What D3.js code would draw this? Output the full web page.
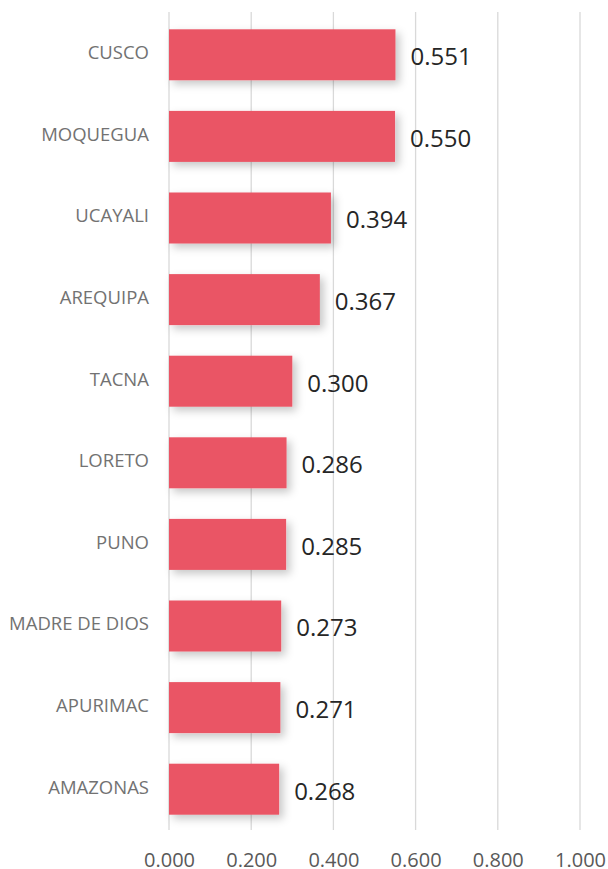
<!DOCTYPE html>
<html>
<head>
<meta charset="utf-8">
<script src="https://cdn.jsdelivr.net/npm/d3@7"></script>
<style>
  body { margin: 0; background: #fff; }
  svg { display: block; font-family: "Open Sans", sans-serif; }
</style>
</head>
<body>
<div id="container"></div>
<script>
const regions = ["CUSCO", "MOQUEGUA", "UCAYALI", "AREQUIPA", "TACNA", "LORETO", "PUNO", "MADRE DE DIOS", "APURIMAC", "AMAZONAS"];
const values = [0.551, 0.550, 0.394, 0.367, 0.300, 0.286, 0.285, 0.273, 0.271, 0.268];
const ticks = [0, 0.2, 0.4, 0.6, 0.8, 1.0];

const width = 608;
const height = 869;
const marginTop = 14;
const marginBottom = 39;
const marginLeft = 169;
const marginRight = 28;

const x = d3.scaleLinear()
  .domain([0, 1])
  .range([marginLeft, width - marginRight]);

const y = d3.scaleBand()
  .domain(regions)
  .range([marginTop, height - marginBottom])
  .paddingInner(0.375)
  .paddingOuter(0.1875);

const svg = d3.create("svg")
  .attr("width", width)
  .attr("height", height)
  .attr("viewBox", [0, 0, width, height]);

// soft shadow under bars
const defs = svg.append("defs");
const f = defs.append("filter")
  .attr("id", "shadow")
  .attr("x", "-10%").attr("y", "-20%")
  .attr("width", "130%").attr("height", "160%");
f.append("feDropShadow")
  .attr("dx", 4).attr("dy", 4)
  .attr("stdDeviation", 4)
  .attr("flood-color", "#000")
  .attr("flood-opacity", 0.22);

// gridlines
svg.append("g")
  .selectAll("line")
  .data(ticks)
  .join("line")
  .attr("x1", d => x(d))
  .attr("x2", d => x(d))
  .attr("y1", 12)
  .attr("y2", height - marginBottom)
  .attr("stroke", "#d9d9d9")
  .attr("stroke-width", 1.3);

// bars
svg.append("g")
  .selectAll("rect")
  .data(values)
  .join("rect")
  .attr("x", x(0))
  .attr("y", (d, i) => y(regions[i]))
  .attr("width", d => x(d) - x(0))
  .attr("height", y.bandwidth())
  .attr("fill", "#EA5565")
  .attr("filter", "url(#shadow)");

// value labels
svg.append("g")
  .selectAll("text")
  .data(values)
  .join("text")
  .attr("x", d => x(d) + 15)
  .attr("y", (d, i) => y(regions[i]) + y.bandwidth() / 2 + 2)
  .attr("dy", "0.35em")
  .attr("font-size", 24)
  .attr("fill", "#262626")
  .text(d => d3.format(".3f")(d));

// category labels
svg.append("g")
  .selectAll("text")
  .data(regions)
  .join("text")
  .attr("x", marginLeft - 20)
  .attr("y", d => y(d) + y.bandwidth() / 2 - 2)
  .attr("dy", "0.35em")
  .attr("text-anchor", "end")
  .attr("font-size", 18.5)
  .attr("fill", "#727272")
  .text(d => d);

// x axis
svg.append("g")
  .attr("transform", `translate(0,${height - marginBottom})`)
  .call(d3.axisBottom(x)
    .tickValues(ticks)
    .tickSize(0)
    .tickPadding(23)
    .tickFormat(d3.format(".3f")))
  .call(g => g.select(".domain").remove())
  .selectAll("text")
  .attr("font-size", 20)
  .attr("font-family", "Open Sans, sans-serif")
  .attr("fill", "#595959");

container.append(svg.node());
</script>
</body>
</html>
